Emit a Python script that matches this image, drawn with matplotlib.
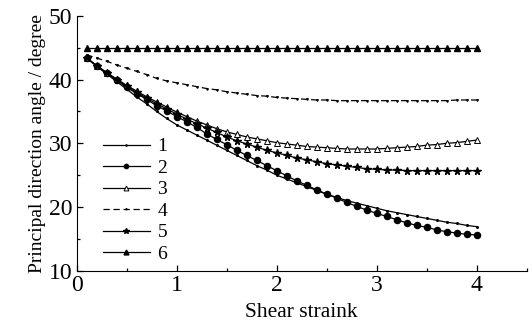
import numpy as np
import matplotlib
matplotlib.use("Agg")
import matplotlib.pyplot as plt
from matplotlib.ticker import MultipleLocator

plt.rcParams['font.family'] = ['Liberation Serif', 'DejaVu Serif']

# shear strain, 0.1 .. 4.0
strain = np.round(np.arange(1, 41) * 0.1, 1)

angle_1 = [43.4, 42.1, 40.9, 39.7, 38.5, 37.3, 36.2, 35.0, 33.9, 32.9,
           32.1, 31.3, 30.5, 29.7, 28.9, 28.1, 27.3, 26.5, 25.8, 25.0,
           24.4, 23.8, 23.2, 22.6, 22.0, 21.5, 21.0, 20.6, 20.2, 19.8,
           19.4, 19.1, 18.8, 18.5, 18.2, 17.9, 17.6, 17.4, 17.1, 16.9]
angle_2 = [43.4, 42.2, 41.0, 39.9, 38.8, 37.8, 36.9, 35.9, 35.1, 34.2,
           33.4, 32.5, 31.5, 30.6, 29.8, 28.9, 28.1, 27.3, 26.5, 25.7,
           24.9, 24.1, 23.4, 22.7, 22.0, 21.4, 20.7, 20.1, 19.5, 19.0,
           18.5, 18.0, 17.5, 17.1, 16.8, 16.4, 16.1, 15.9, 15.7, 15.6]
angle_3 = [43.4, 42.2, 41.1, 40.1, 39.1, 38.2, 37.3, 36.5, 35.7, 34.9,
           34.2, 33.5, 32.9, 32.3, 31.8, 31.4, 31.0, 30.7, 30.4, 30.1,
           29.9, 29.7, 29.5, 29.4, 29.3, 29.2, 29.1, 29.1, 29.1, 29.1,
           29.2, 29.3, 29.4, 29.5, 29.7, 29.8, 30.0, 30.1, 30.3, 30.5]
angle_4 = [43.9, 43.4, 42.9, 42.3, 41.8, 41.3, 40.8, 40.2, 39.8, 39.5,
           39.2, 38.9, 38.6, 38.4, 38.1, 37.9, 37.7, 37.5, 37.4, 37.2,
           37.1, 37.0, 36.9, 36.8, 36.8, 36.7, 36.7, 36.7, 36.7, 36.7,
           36.7, 36.7, 36.7, 36.7, 36.7, 36.7, 36.7, 36.8, 36.8, 36.8]
angle_5 = [43.4, 42.2, 41.1, 40.0, 39.0, 38.0, 37.1, 36.2, 35.4, 34.6,
           33.8, 33.1, 32.4, 31.7, 31.0, 30.4, 29.9, 29.4, 28.9, 28.5,
           28.1, 27.7, 27.4, 27.1, 26.8, 26.6, 26.4, 26.2, 26.0, 25.9,
           25.8, 25.8, 25.7, 25.7, 25.7, 25.7, 25.7, 25.7, 25.7, 25.7]
angle_6 = [45.0] * 40

labels = ['1', '2', '3', '4', '5', '6']

fig = plt.figure(figsize=(5.32, 3.26), dpi=100)
ax = fig.add_axes([0.144, 0.170, 0.846, 0.781])

k = dict(color='black', lw=0.9)
ax.plot(strain, angle_1, marker='o', ms=1.2, label=labels[0], **k)
ax.plot(strain, angle_2, marker='o', ms=4.4, label=labels[1], **k)
ax.plot(strain, angle_3, marker='^', ms=5, mfc='white', mec='black', mew=0.7, label=labels[2], **k)
ax.plot(strain, angle_4, ls=(0, (5, 3)), marker='v', ms=1.2, label=labels[3], **k)
ax.plot(strain, angle_5, marker='*', ms=5.5, label=labels[4], **k)
ax.plot(strain, angle_6, marker='^', ms=5, label=labels[5], **k)

ax.set_xlim(0, 4.5)
ax.set_ylim(10, 50)
ax.xaxis.set_major_locator(MultipleLocator(1))
ax.xaxis.set_minor_locator(MultipleLocator(0.5))
ax.yaxis.set_major_locator(MultipleLocator(10))
ax.yaxis.set_minor_locator(MultipleLocator(5))
ax.spines['top'].set_visible(False)
ax.spines['right'].set_visible(False)
ax.tick_params(which='both', direction='in', width=0.9)
ax.tick_params(which='major', length=4, labelsize=17, pad=3)
ax.tick_params(which='minor', length=2.5)

ax.set_xlabel('Shear straink', fontsize=15.5, labelpad=5)
ax.set_ylabel('Principal direction angle / degree', fontsize=14, labelpad=2)

ax.legend(loc='upper left', bbox_to_anchor=(0.037, 0.56), frameon=False,
          fontsize=14, markerscale=0.7, handlelength=2.4, handletextpad=0.4,
          labelspacing=0.2, borderpad=0)

fig.savefig('out.png', dpi=100)
